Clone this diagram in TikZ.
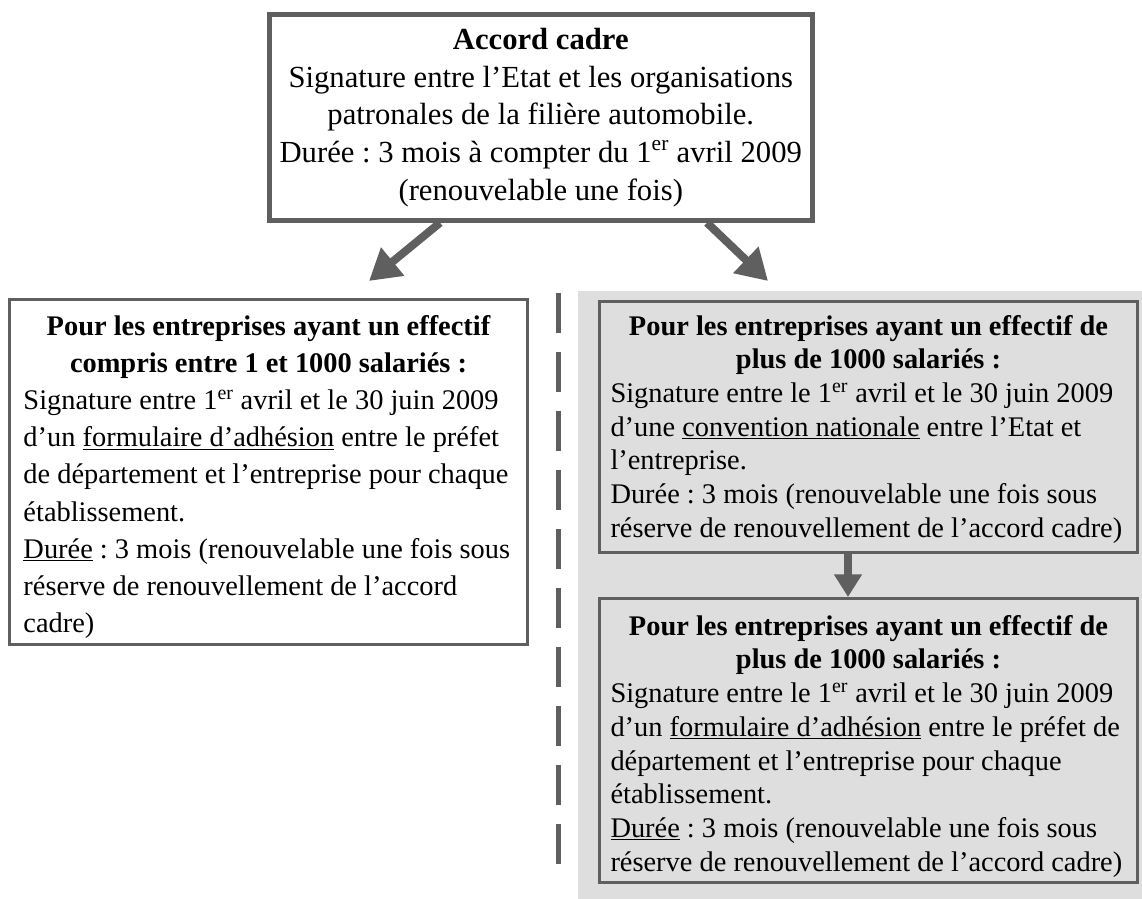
\documentclass[tikz,border=0pt]{standalone}
\usepackage{fontspec}
\setmainfont{Liberation Serif}
\usetikzlibrary{arrows.meta}
\definecolor{edgegray}{HTML}{5F5F5F}
\definecolor{bggray}{HTML}{DEDEDE}
\newcommand\pxu{0.75pt}
% #1 width (px), #2 top pad (px), #3 baselineskip (pt), #4 text
\newcommand\boxtext[4]{\begin{minipage}{\dimexpr #1pt*3/4\relax}\vspace*{\dimexpr #2pt*3/4\relax}\fontsize{21.3}{#3}\selectfont\frenchspacing\raggedright #4\end{minipage}}
\begin{document}
\begin{tikzpicture}[x=0.75pt,y=-0.75pt,
  topbox/.style={draw=edgegray, line width=3.75pt, fill=white, inner sep=0pt,
    align=center, font=\fontsize{23}{28.3}\selectfont\frenchspacing},
  sidebox/.style={draw=edgegray, line width=2.25pt, inner sep=0pt},
  bigarrow/.style={draw=edgegray, line width=6pt, -{Triangle[length=23pt,width=26pt]}},
  downarrow/.style={draw=edgegray, line width=6pt, -{Triangle[length=17pt,width=20pt]}},
  divider/.style={draw=edgegray, line width=3.75pt, dash pattern=on 30pt off 14.25pt}]
\useasboundingbox (0,0) rectangle (1142,899);
\fill[white] (0,0) rectangle (1142,899);
% shaded area
\fill[bggray] (578,291) rectangle (1142,899);
% divider
\coordinate (d1) at (558,293);
\coordinate (d2) at (558,864);
\draw[divider] (d1) -- (d2);
% top box
\node[topbox, minimum width=542.5*\pxu, minimum height=205.5*\pxu] (top) at (540.75,117.5)
 {\textbf{Accord cadre}\\
  Signature entre l’Etat et les organisations\\
  patronales de la filière automobile.\\
  Durée : 3 mois à compter du 1\textsuperscript{er} avril 2009\\
  (renouvelable une fois)};
% left box
\node[sidebox, fill=white, minimum width=518*\pxu, minimum height=345*\pxu] (left) at (268.5,472)
 {\boxtext{490}{10}{27.8}{{\centering\bfseries Pour les entreprises ayant un effectif\\
  compris entre 1 et 1000 salariés :\par}
  Signature entre 1\textsuperscript{er} avril et le 30 juin 2009\\
  d’un \underline{formulaire d’adhésion} entre le préfet\\
  de département et l’entreprise pour chaque\\
  établissement.\\
  \underline{Durée} : 3 mois (renouvelable une fois sous\\
  réserve de renouvellement de l’accord\\
  cadre)}};
% right boxes
\node[sidebox, fill=bggray, minimum width=538*\pxu, minimum height=250.5*\pxu] (r1) at (868.5,426.75)
 {\boxtext{516}{5}{25.3}{{\centering\bfseries Pour les entreprises ayant un effectif de\\
  plus de 1000 salariés :\par}
  Signature entre le 1\textsuperscript{er} avril et le 30 juin 2009\\
  d’une \underline{convention nationale} entre l’Etat et\\
  l’entreprise.\\
  Durée : 3 mois (renouvelable une fois sous\\
  réserve de renouvellement de l’accord cadre)}};
\node[sidebox, fill=bggray, minimum width=538*\pxu, minimum height=283.5*\pxu] (r2) at (868.5,740.25)
 {\boxtext{516}{12}{25.3}{{\centering\bfseries Pour les entreprises ayant un effectif de\\
  plus de 1000 salariés :\par}
  Signature entre le 1\textsuperscript{er} avril et le 30 juin 2009\\
  d’un \underline{formulaire d’adhésion} entre le préfet de\\
  département et l’entreprise pour chaque\\
  établissement.\\
  \underline{Durée} : 3 mois (renouvelable une fois sous\\
  réserve de renouvellement de l’accord cadre)}};
% arrows
\coordinate (tipL) at (369,281);
\coordinate (tipR) at (768,281);
\draw[bigarrow] ([xshift=-100.75*\pxu]top.south) -- (tipL);
\draw[bigarrow] ([xshift=166.25*\pxu]top.south) -- (tipR);
\draw[downarrow] ([xshift=-20.5*\pxu]r1.south) -- ([xshift=-20.5*\pxu]r2.north);
\end{tikzpicture}
\end{document}
